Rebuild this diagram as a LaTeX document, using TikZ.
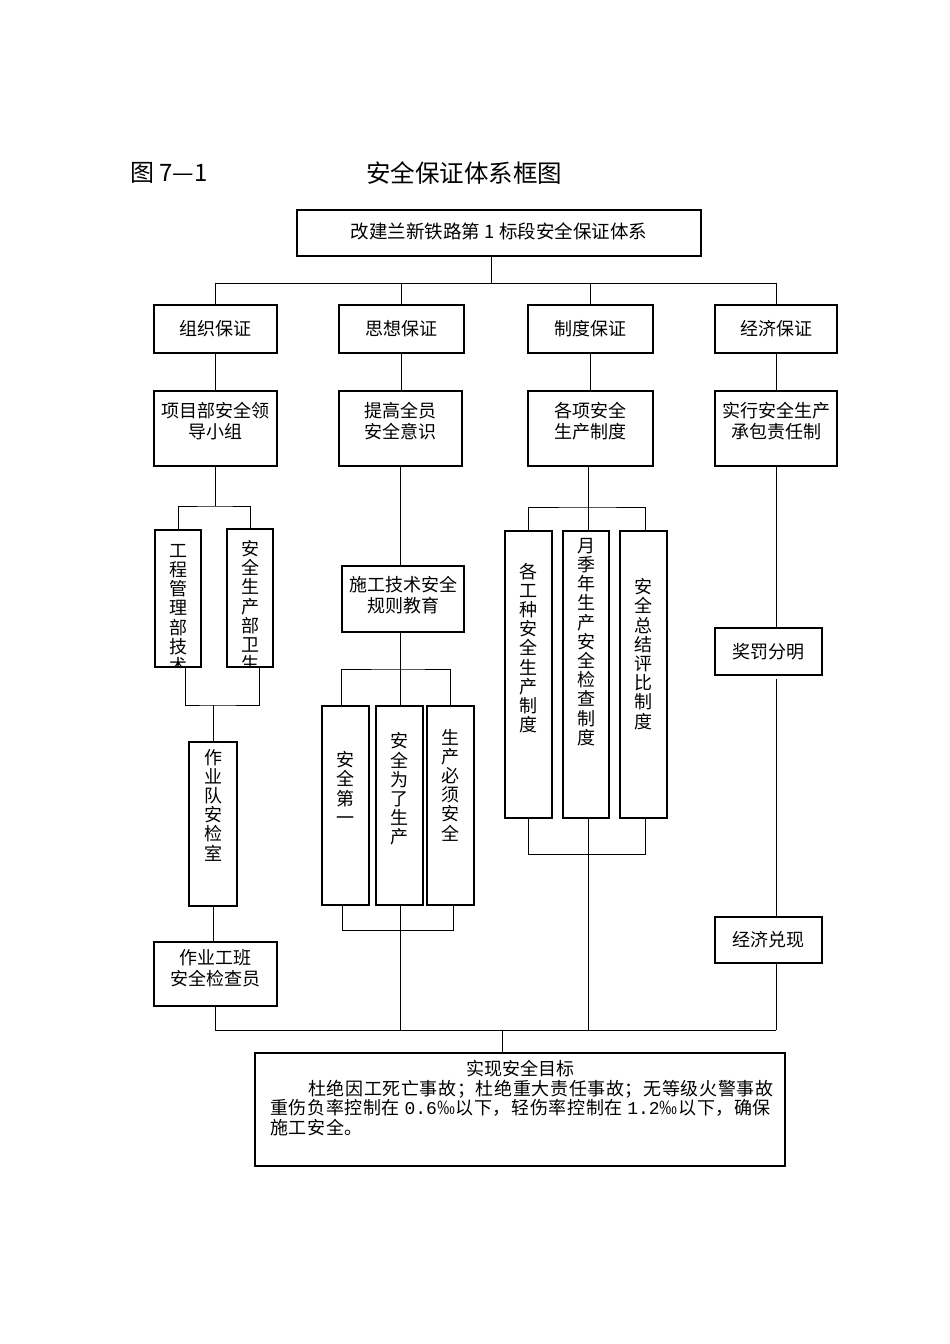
\documentclass[tikz,border=0pt]{standalone}
\usepackage{fontspec}
\setmainfont{Noto Sans CJK SC}
\newfontfamily\digitfont{Liberation Mono}
\newcommand\mybox[5]{\node[box,minimum width={(#4-#2)*1pt},minimum height={(#5-#3)*1pt}] (#1) at ({(#2+#4)/2},{(#3+#5)/2}) {};}
\begin{document}
\begin{tikzpicture}[x=1pt,y=-1pt,
  box/.style={draw,line width=1.3pt,inner sep=0pt,rectangle},
  ln/.style={line width=0.9pt},
  txt/.style={inner sep=0pt,font=\fontsize{18}{21}\selectfont,align=center},
  vtxt/.style={inner sep=0pt,font=\fontsize{18}{19.2}\selectfont,align=center}]
\fill[white] (0,0) rectangle (950,1344);
\useasboundingbox (0,0) rectangle (950,1344);

% titles
\node[anchor=west,inner sep=0pt,font=\fontsize{24}{24}\selectfont] (fig) at (130,173) {图 7—1};
\node[inner sep=0pt,font=\fontsize{24.5}{24}\selectfont] (ttl) at (464,173) {安全保证体系框图};

% top box
\mybox{top}{297}{210}{701}{256}
\node[txt,font=\fontsize{18.5}{21}\selectfont] (toptxt) at (499,231) {改建兰新铁路第 1 标段安全保证体系};

% row 1
\mybox{a1}{154}{305}{277}{353}
\mybox{a2}{339}{305}{464}{353}
\mybox{a3}{528}{305}{653}{353}
\mybox{a4}{715}{305}{837}{353}
\node[txt] (a1t) at (a1) {组织保证};
\node[txt] (a2t) at (a2) {思想保证};
\node[txt] (a3t) at (a3) {制度保证};
\node[txt] (a4t) at (a4) {经济保证};

% row 2
\mybox{b1}{154}{391}{277}{466}
\mybox{b2}{339}{391}{462}{466}
\mybox{b3}{528}{391}{653}{466}
\mybox{b4}{715}{391}{837}{466}
\node[txt] (b1t) at (215.5,421.5) {项目部安全领\\导小组};
\node[txt] (b2t) at (400.5,421.5) {提高全员\\安全意识};
\node[txt] (b3t) at (590.5,421.5) {各项安全\\生产制度};
\node[txt] (b4t) at (776,421.5) {实行安全生产\\承包责任制};

% top connectors
\coordinate (t1) at (491,283);
\draw[ln] (top.south -| t1) -- (t1);
\draw[ln] (a1.north |- t1) -- (a4.north |- t1);
\foreach \n in {a1,a2,a3,a4} \draw[ln] (\n.north) -- (\n.north |- t1);
\draw[ln] (a1.south) -- (a1.south |- b1.north);
\draw[ln] (a2.south) -- (a2.south |- b2.north);
\draw[ln] (a3.south) -- (a3.south |- b3.north);
\draw[ln] (a4.south) -- (a4.south |- b4.north);

% column 1
\mybox{c1}{155}{530}{201}{667}
\mybox{c2}{227}{529}{273}{667}
\coordinate (h1) at (215.5,506);
\draw[ln] (b1.south) -- (h1);
\draw[ln] (c1.north) |- (h1) -| (c2.north);
\begin{scope}
  \clip (156,531) rectangle (200,666);
  \node[vtxt] (c1t) at (178,609) {工\\程\\管\\理\\部\\技\\术};
\end{scope}
\begin{scope}
  \clip (228,530) rectangle (272,666);
  \node[vtxt] (c2t) at (250,606) {安\\全\\生\\产\\部\\卫\\生};
\end{scope}
\coordinate (h2) at (213,705);
\draw[ln] ([xshift=7pt]c1.south) |- (h2) -| ([xshift=9pt]c2.south);
\mybox{c3}{189}{742}{237}{906}
\draw[ln] (h2) -- (h2 |- c3.north);
\node[vtxt] (c3t) at (213,805) {作\\业\\队\\安\\检\\室};
\mybox{f1}{154}{942}{277}{1006}
\draw[ln] (c3.south) -- (c3.south |- f1.north);
\node[txt] (f1t) at (215.5,968.5) {作业工班\\安全检查员};

% column 2
\mybox{d1}{342}{566}{464}{632}
\draw[ln] (b2.south) -- (b2.south |- d1.north);
\node[txt] (d1t) at (403,595) {施工技术安全\\规则教育};
\coordinate (h3) at (400.5,669);
\draw[ln] (d1.south -| h3) -- (h3);
\mybox{e1}{322}{706}{369}{905}
\mybox{e2}{376}{706}{423}{905}
\mybox{e3}{427}{706}{474}{905}
\draw[ln] ([xshift=-4.5pt]e1.north) |- (h3) -| (e3.north);
\draw[ln] (e2.north -| h3) -- (h3);
\node[vtxt] (e1t) at (345.5,788) {安\\全\\第\\一};
\node[vtxt] (e2t) at (399.5,789) {安\\全\\为\\了\\生\\产};
\node[vtxt] (e3t) at (450.5,785) {生\\产\\必\\须\\安\\全};
\coordinate (h4) at (400.5,930);
\draw[ln] ([xshift=-3pt]e1.south) |- (h4) -| ([xshift=3pt]e3.south);
\draw[ln] (e2.south -| h4) -- (h4);

% column 3
\coordinate (h5) at (588,507);
\draw[ln] (b3.south -| h5) -- (h5);
\mybox{g1}{505}{531}{552}{818}
\mybox{g2}{563}{531}{609}{818}
\mybox{g3}{620}{531}{667}{818}
\draw[ln] (g1.north) |- (h5) -| ([xshift=2pt]g3.north);
\draw[ln] (g2.north -| h5) -- (h5);
\node[vtxt] (g1t) at (528.5,648) {各\\工\\种\\安\\全\\生\\产\\制\\度};
\node[vtxt] (g2t) at (586,642) {月\\季\\年\\生\\产\\安\\全\\检\\查\\制\\度};
\node[vtxt] (g3t) at (643.5,654) {安\\全\\总\\结\\评\\比\\制\\度};
\coordinate (h6) at (588,854);
\draw[ln] (g1.south) |- (h6) -| ([xshift=2pt]g3.south);
\draw[ln] (g2.south -| h6) -- (h6);

% column 4
\mybox{k1}{715}{628}{822}{675}
\mybox{k2}{715}{917}{822}{963}
\node[txt] (k1t) at (k1) {奖罚分明};
\node[txt] (k2t) at (k2) {经济兑现};
\draw[ln] (b4.south) -- (b4.south |- k1.north);
\draw[ln] (b4.south |- k1.south) ++(0,3) -- (b4.south |- k2.north);

% bottom
\coordinate (bb) at (502,1030);
\mybox{z}{255}{1053}{785}{1166}
\draw[ln] (f1.south) -- (f1.south |- bb) -- (b4.south |- bb);
\draw[ln] (h4) -- (h4 |- bb);
\draw[ln] (h6) -- (h6 |- bb);
\draw[ln] (b4.south |- k2.south) -- (b4.south |- bb);
\draw[ln] (bb) -- (bb |- z.north);
\node[txt] (z0) at (520,1069) {实现安全目标};
\node[txt,anchor=west] (z1) at (308,1089) {\addfontfeature{LetterSpace=3.5}杜绝因工死亡事故；杜绝重大责任事故；无等级火警事故};
\node[txt,anchor=west] (z2) at (270,1108) {\addfontfeature{LetterSpace=3.5}重伤负率控制在 {\digitfont 0.6}‰以下，轻伤率控制在 {\digitfont 1.2}‰以下，确保};
\node[txt,anchor=west] (z3) at (270,1128) {\addfontfeature{LetterSpace=3.5}施工安全。};
\end{tikzpicture}
\end{document}
